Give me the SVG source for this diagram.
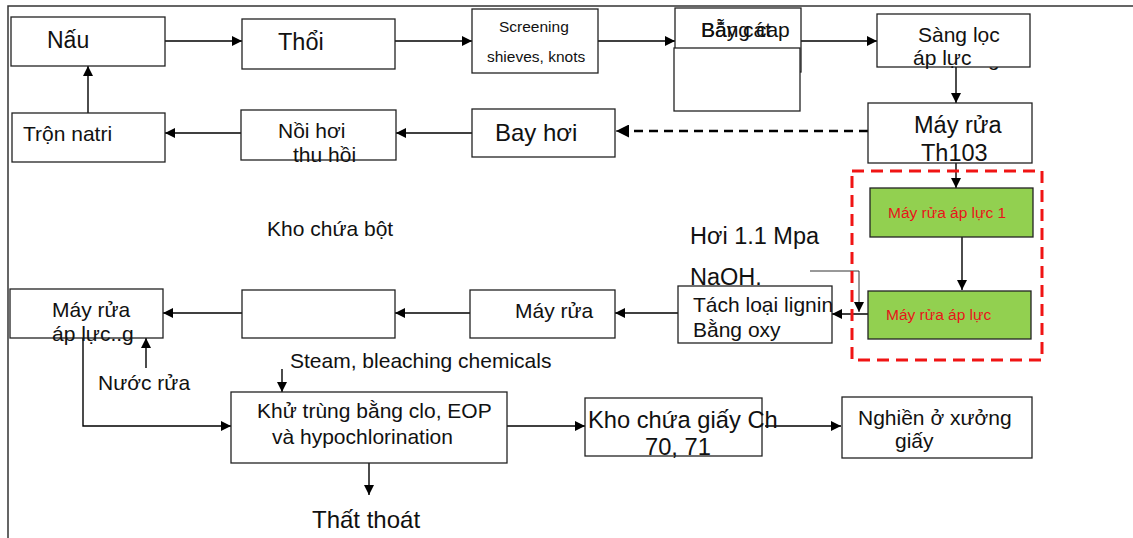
<svg xmlns="http://www.w3.org/2000/svg" width="1133" height="538" viewBox="0 0 1133 538">
  <style>
    text { font-family: "Liberation Sans", Arial, sans-serif; fill: #111; }
    .box { fill: #fff; stroke: #222; stroke-width: 1.3; }
    .green { fill: #92d050; stroke: #222; stroke-width: 1.3; }
    .ln { fill: none; stroke: #000; stroke-width: 1.4; }
    .dash { fill: none; stroke: #000; stroke-width: 2.6; stroke-dasharray: 9 6; }
    .big { font-size: 23.5px; }
    .mid { font-size: 21px; }
    .sm { font-size: 15.5px; }
    .red { fill: #e8141b; font-size: 15.5px; }
  </style>
  <defs>
    <marker id="ah" viewBox="0 0 10 10" refX="10" refY="5" markerWidth="10" markerHeight="10" markerUnits="userSpaceOnUse" orient="auto">
      <path d="M0,0 L10,5 L0,10 z" fill="#000"/>
    </marker>
    <marker id="ahb" viewBox="0 0 10 10" refX="10" refY="5" markerWidth="13" markerHeight="13" markerUnits="userSpaceOnUse" orient="auto">
      <path d="M0,0 L10,5 L0,10 z" fill="#000"/>
    </marker>
  </defs>

  <rect width="1133" height="538" fill="#fff"/>
  <!-- page frame -->
  <path d="M8,538 V6 H1133" fill="none" stroke="#333" stroke-width="1.5"/>

  <!-- connectors -->
  <g id="connectors">
    <path class="ln" d="M165,41 H242" marker-end="url(#ah)"/>
    <path class="ln" d="M395,41 H472" marker-end="url(#ah)"/>
    <path class="ln" d="M598,41 H675" marker-end="url(#ah)"/>
    <path class="ln" d="M801,41 H877" marker-end="url(#ah)"/>
    <path class="ln" d="M956,67 V103" marker-end="url(#ah)"/>
    <path class="ln" d="M956,163 V188" marker-end="url(#ah)"/>
    <path class="ln" d="M962,237 V290" marker-end="url(#ah)"/>
    <path class="ln" d="M868,314 H832" marker-end="url(#ah)"/>
    <path d="M810,271 H859 V312" fill="none" stroke="#333" stroke-width="1" marker-end="url(#ah)"/>
    <path class="ln" d="M678,313 H615" marker-end="url(#ah)"/>
    <path class="ln" d="M470,313 H395" marker-end="url(#ah)"/>
    <path class="ln" d="M242,313 H163" marker-end="url(#ah)"/>
    <path class="ln" d="M146,368 V338" marker-end="url(#ah)"/>
    <path class="ln" d="M83,338 V426 H231" marker-end="url(#ah)"/>
    <path class="ln" d="M282,369 V392" marker-end="url(#ah)"/>
    <path class="ln" d="M369,463 V495" marker-end="url(#ah)"/>
    <path class="ln" d="M507,426 H585" marker-end="url(#ah)"/>
    <path class="ln" d="M765,426 H841" marker-end="url(#ah)"/>
    <path class="ln" d="M472,133 H396" marker-end="url(#ah)"/>
    <path class="ln" d="M241,133 H165" marker-end="url(#ah)"/>
    <path class="ln" d="M88,113 V66" marker-end="url(#ah)"/>
    <path class="dash" d="M868,131 H628"/>
    <path d="M628,131 H616" stroke="#000" stroke-width="1" marker-end="url(#ahb)"/>
  </g>

  <!-- row 1 -->
  <g id="nau">
    <rect class="box" x="11" y="17" width="154" height="49"/>
    <text x="47" y="48" font-size="23px">Nấu</text>
  </g>
  <g id="thoi">
    <rect class="box" x="242" y="19" width="153" height="50"/>
    <text class="big" x="278" y="50">Thổi</text>
  </g>
  <g id="screening">
    <rect class="box" x="472" y="9" width="126" height="64"/>
    <text class="sm" x="499" y="32">Screening</text>
    <text class="sm" x="487" y="62">shieves, knots</text>
  </g>
  <g id="bay-cat">
    <rect class="box" x="675" y="8" width="126" height="64"/>
    <rect class="box" x="674" y="48" width="126" height="63"/>
    <text class="mid" x="701" y="37">Bẫy cát</text>
    <text class="mid" x="701" y="37">Bằng cap</text>
  </g>
  <g id="sang-loc">
    <text class="mid" x="988" y="66">g</text>
    <rect class="box" x="877" y="14" width="153" height="53"/>
    <text class="mid" x="918" y="42">Sàng lọc</text>
    <text class="mid" x="913" y="65">áp lực</text>
  </g>
  <g id="may-rua-th103">
    <rect class="box" x="868" y="103" width="164" height="60"/>
    <text class="big" x="914" y="133">Máy  rửa</text>
    <text class="big" x="921" y="161">Th103</text>
  </g>

  <!-- row 2 -->
  <g id="tron-natri">
    <rect class="box" x="12" y="113" width="153" height="49"/>
    <text class="mid" x="23" y="141">Trộn natri</text>
  </g>
  <g id="noi-hoi">
    <rect class="box" x="241" y="110" width="155" height="50"/>
    <text class="mid" x="278" y="138">Nồi hơi</text>
    <text class="mid" x="293" y="162">thu hồi</text>
  </g>
  <g id="bay-hoi">
    <rect class="box" x="472" y="109" width="143" height="48"/>
    <text x="495" y="141" font-size="24px">Bay hơi</text>
  </g>

  <!-- labels -->
  <g id="kho-chua-bot"><text class="mid" x="267" y="236">Kho chứa bột</text></g>
  <g id="hoi-label"><text class="big" x="690" y="244">Hơi 1.1 Mpa</text></g>
  <g id="naoh-label"><text class="big" x="690" y="285">NaOH.</text></g>

  <!-- pressure washer group -->
  <g id="nhom-may-rua">
    <rect x="852" y="171" width="190" height="189" fill="none" stroke="#f01414" stroke-width="3" stroke-dasharray="12 7"/>
  </g>
  <g id="may-rua-ap-luc-1">
    <rect class="green" x="870" y="188" width="163" height="49"/>
    <text class="red" x="888" y="218">Máy rửa áp lực 1</text>
  </g>
  <g id="may-rua-ap-luc-2">
    <rect class="green" x="868" y="291" width="163" height="48"/>
    <text class="red" x="886" y="320">Máy rửa áp lực</text>
  </g>

  <!-- row 3 -->
  <g id="tach-lignin">
    <rect class="box" x="678" y="286" width="154" height="57"/>
    <text class="mid" x="693" y="312">Tách loại lignin</text>
    <text class="mid" x="693" y="337">Bằng oxy</text>
  </g>
  <g id="may-rua">
    <rect class="box" x="470" y="290" width="145" height="48"/>
    <text class="mid" x="515" y="318">Máy rửa</text>
  </g>
  <g id="o-trong">
    <rect class="box" x="242" y="290" width="153" height="48"/>
  </g>
  <g id="may-rua-ap-luc">
    <rect class="box" x="10" y="289" width="153" height="49"/>
    <text class="mid" x="52" y="317">Máy rửa</text>
    <text class="mid" x="52" y="341">áp lực..g</text>
  </g>
  <g id="nuoc-rua"><text class="mid" x="98" y="390">Nước rửa</text></g>
  <g id="steam-label"><text class="mid" x="290" y="368" font-size="21.4px">Steam, bleaching chemicals</text></g>

  <!-- row 4 -->
  <g id="khu-trung">
    <rect class="box" x="231" y="392" width="276" height="71"/>
    <text class="mid" x="257" y="418">Khử trùng bằng clo, EOP</text>
    <text class="mid" x="272" y="444">và hypochlorination</text>
  </g>
  <g id="that-thoat"><text x="312" y="528" font-size="24px">Thất thoát</text></g>
  <g id="kho-chua-giay">
    <rect class="box" x="585" y="398" width="177" height="58"/>
    <text x="588" y="428" font-size="23.7px">Kho chứa giấy Ch</text>
    <text x="645" y="455" font-size="23.7px">70, 71</text>
  </g>
  <g id="nghien">
    <rect class="box" x="842" y="397" width="190" height="61"/>
    <text class="mid" x="858" y="425">Nghiền ở xưởng</text>
    <text class="mid" x="895" y="448">giấy</text>
  </g>
</svg>
